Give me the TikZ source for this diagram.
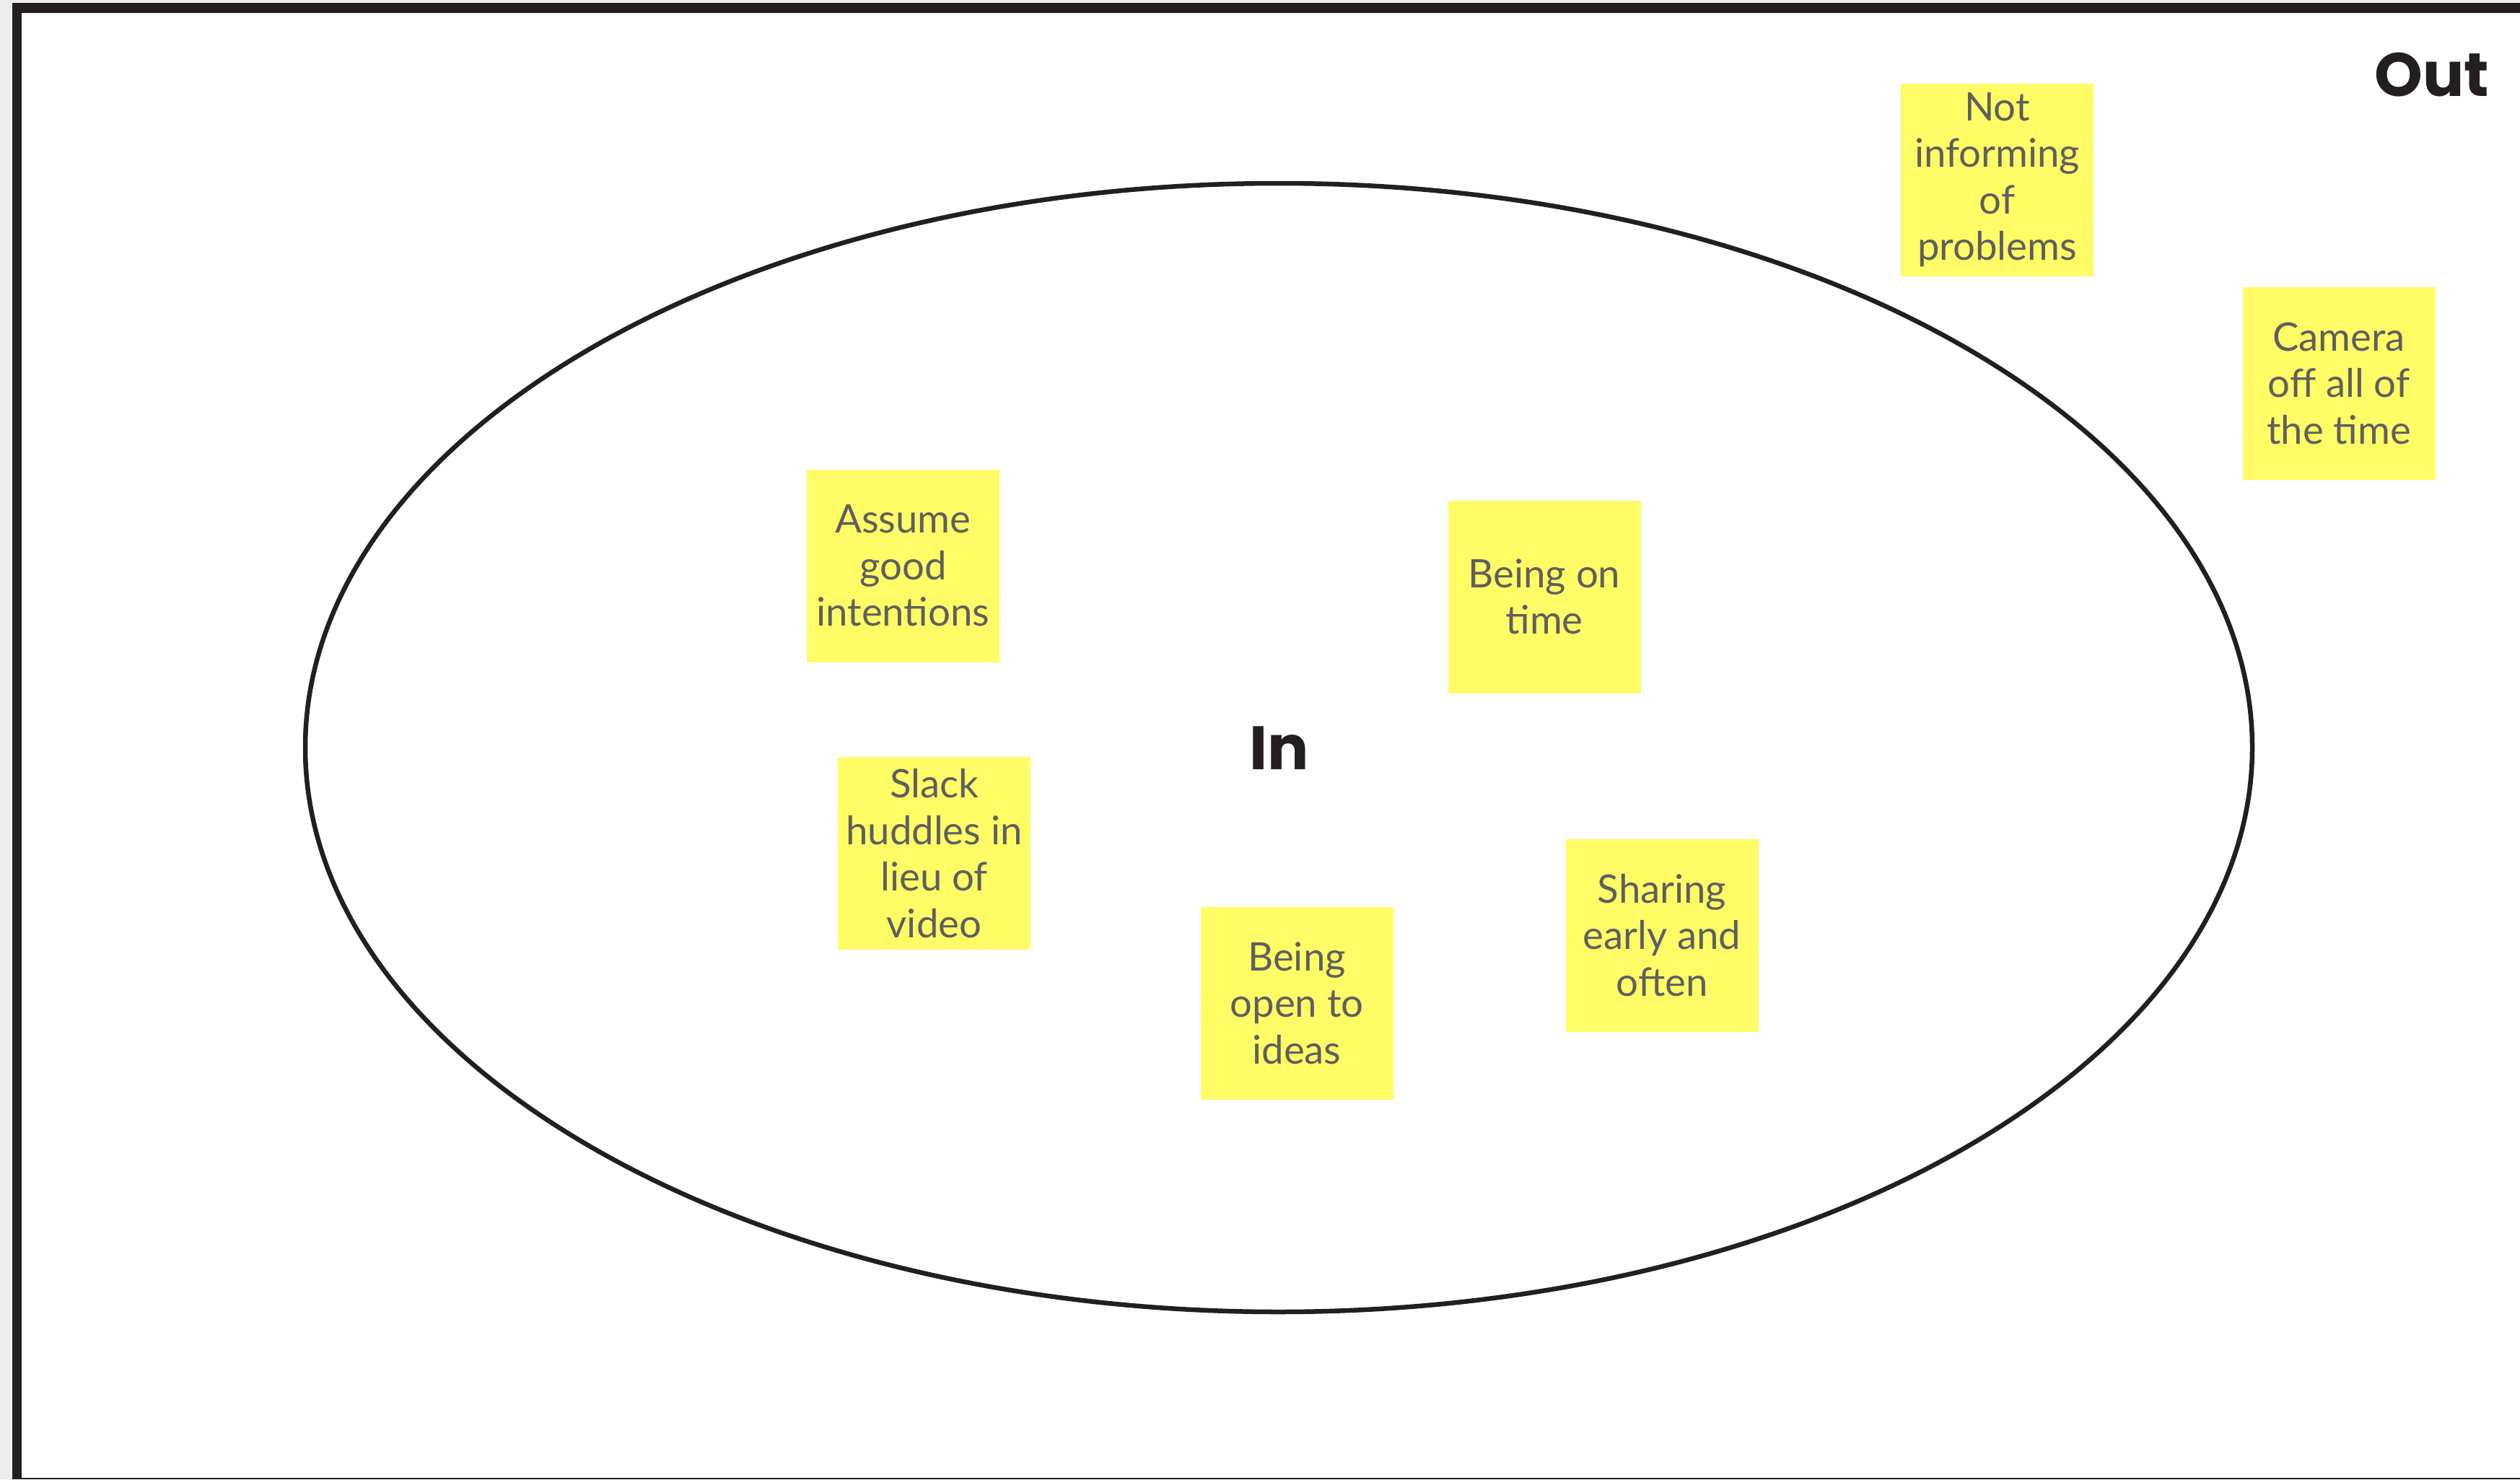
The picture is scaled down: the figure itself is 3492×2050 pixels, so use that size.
\documentclass[tikz,border=0pt]{standalone}
\usepackage{fontspec}
\setmainfont{Lato}
\newfontfamily\headfont{Poppins}
\definecolor{sticky}{HTML}{FFFC66}
\definecolor{stickytext}{HTML}{5F5F5F}
\definecolor{ink}{HTML}{231F20}
\definecolor{outside}{HTML}{EDEDED}
\begin{document}
\begin{tikzpicture}[x=1pt,y=-1pt,
  note/.style={fill=sticky, minimum width=267pt, minimum height=267pt, inner sep=0pt,
    align=center, text=stickytext, font=\fontsize{54.5}{64.5}\selectfont},
  head/.style={text=ink, inner sep=0pt, font=\headfont\bfseries\fontsize{85}{90}\selectfont}]
\useasboundingbox (0,0) rectangle (3492,2050);
\fill[outside] (0,0) rectangle (3492,2050);
\fill[ink] (17,4) rectangle (3492,2050);
\fill[white] (30,18) rectangle (3492,2048);
\draw[ink, line width=6.5pt] (1772,1036) ellipse [x radius=1349pt, y radius=782pt];
\node[head, anchor=base east] (out) at (3449,133) {Out};
\node[head, anchor=base] (in) at (1773,1066) {In};
\node[note] (n1) at (2767.5,249) {Not\\informing\\of\\problems};
\node[note] (n2) at (3241,531) {Camera\\off all of\\the time};
\node[note] (n3) at (1251.5,784) {Assume\\good\\intentions};
\node[note] (n4) at (2140,827) {Being on\\time};
\node[note] (n5) at (1294.5,1182.5) {Slack\\huddles in\\lieu of\\video};
\node[note] (n6) at (1797,1390) {Being\\open to\\ideas};
\node[note] (n7) at (2303,1296) {Sharing\\early and\\often};
\end{tikzpicture}
\end{document}
